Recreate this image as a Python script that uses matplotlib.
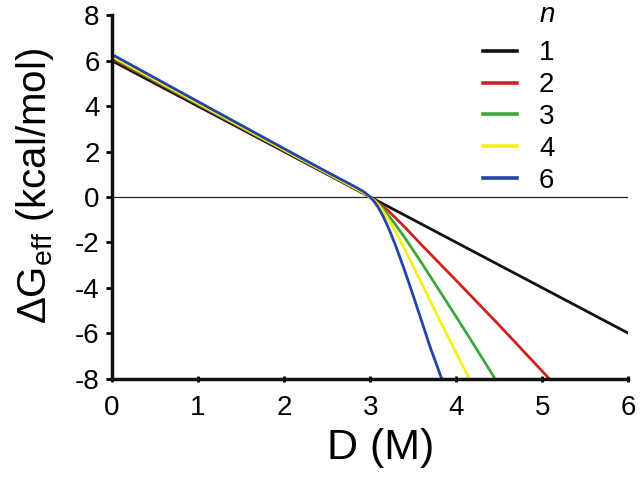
import matplotlib
matplotlib.use("Agg")
import matplotlib.pyplot as plt
from matplotlib.lines import Line2D

plt.rcParams['font.family'] = ['Liberation Sans', 'DejaVu Sans']
plt.rcParams['mathtext.fontset'] = 'custom'
plt.rcParams['mathtext.rm'] = 'Liberation Sans'
plt.rcParams['mathtext.it'] = 'Liberation Sans:italic'
plt.rcParams['axes.unicode_minus'] = False

# Data
labels = ['1', '2', '3', '4', '6']
colors = ['#111111', '#d02020', '#3aa83a', '#f5f01a', '#2244aa']

d_n1 = [0.0, 3.0, 6.0]
g_n1 = [6.0, 0.0, -6.0]

d_n2 = [0.0, 1.0, 2.0, 2.5, 2.8, 2.9, 2.95, 3.0, 3.05, 3.1, 3.2, 3.3, 3.4, 3.6, 3.8, 4.0, 4.5, 5.08]
g_n2 = [6.1, 4.07, 2.04, 1.02, 0.41, 0.21, 0.1, -0.01, -0.13, -0.27, -0.58, -0.94, -1.32, -2.12, -2.9, -3.68, -5.65, -8.0]

d_n3 = [0.0, 1.0, 2.0, 2.5, 2.8, 2.9, 2.95, 3.0, 3.05, 3.1, 3.15, 3.2, 3.3, 3.4, 3.6, 3.8, 4.0, 4.2, 4.45]
g_n3 = [6.15, 4.1, 2.06, 1.04, 0.43, 0.22, 0.11, -0.01, -0.15, -0.33, -0.53, -0.76, -1.25, -1.78, -2.92, -4.1, -5.28, -6.48, -8.0]

d_n4 = [0.0, 1.0, 2.0, 2.5, 2.8, 2.9, 2.95, 3.0, 3.05, 3.1, 3.15, 3.2, 3.25, 3.3, 3.4, 3.5, 3.6, 3.8, 4.0, 4.15]
g_n4 = [6.2, 4.13, 2.08, 1.06, 0.45, 0.24, 0.12, -0.01, -0.17, -0.38, -0.63, -0.92, -1.24, -1.57, -2.3, -3.05, -3.82, -5.37, -6.88, -8.0]

d_n6 = [0.0, 1.0, 2.0, 2.5, 2.8, 2.9, 2.95, 3.0, 3.05, 3.1, 3.15, 3.2, 3.25, 3.3, 3.4, 3.5, 3.6, 3.7, 3.83]
g_n6 = [6.28, 4.2, 2.13, 1.1, 0.5, 0.29, 0.16, 0.0, -0.22, -0.5, -0.85, -1.26, -1.71, -2.19, -3.24, -4.35, -5.5, -6.65, -8.0]

series_d = [d_n1, d_n2, d_n3, d_n4, d_n6]
series_g = [g_n1, g_n2, g_n3, g_n4, g_n6]

fig = plt.figure(figsize=(6.4, 4.8), dpi=100)
ax = fig.add_axes([0.175, 0.211, 0.807, 0.757])

ax.axhline(0, color='#222222', lw=0.9, zorder=1)
for d, g, c in zip(series_d, series_g, colors):
    ax.plot(d, g, color=c, lw=2.0, solid_capstyle='butt', solid_joinstyle='round', zorder=2)

ax.set_xlim(0, 6)
ax.set_ylim(-8, 8)
ax.set_xticks(range(0, 7))
ax.set_yticks(range(-8, 9, 2))
for s in ['top', 'right']:
    ax.spines[s].set_visible(False)
for s in ['left', 'bottom']:
    ax.spines[s].set_linewidth(2.5)
    ax.spines[s].set_color('#111111')
ax.tick_params(axis='y', direction='out', length=4, width=2, labelsize=20, pad=5)
ax.tick_params(axis='x', direction='inout', length=5, width=2, labelsize=20, pad=9)

ax.set_xlabel('D (M)', fontsize=31)
ax.xaxis.set_label_coords(0.52, -0.135)
ax.set_ylabel('ΔG$_{\\mathrm{eff}}$ (kcal/mol)', fontsize=29)
ax.yaxis.set_label_coords(-0.108, 0.53)

handles = [Line2D([], [], color=c, lw=2.6) for c in colors]
leg = ax.legend(handles, labels, loc='upper left', bbox_to_anchor=(0.718, 0.931),
                frameon=False, fontsize=20, handlelength=1.22, handletextpad=0.8,
                labelspacing=0.21, borderaxespad=0, borderpad=0)
ax.text(0.843, 1.0, 'n', transform=ax.transAxes, fontsize=20, style='italic',
        ha='center', va='center')

fig.savefig('out.png', dpi=100)
